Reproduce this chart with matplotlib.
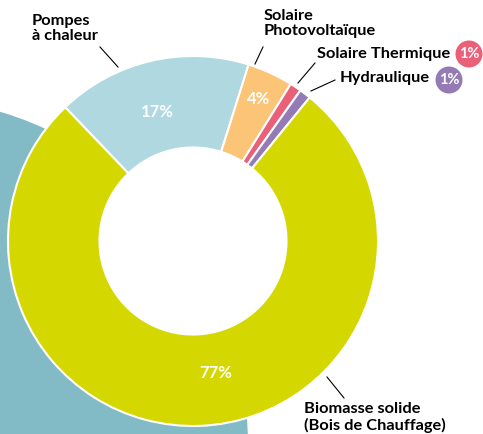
import matplotlib
matplotlib.use("Agg")
import matplotlib.pyplot as plt
from matplotlib.patches import Circle

# ---- data ----
categories = ["Pompes\nà chaleur", "Solaire\nPhotovoltaïque", "Solaire Thermique",
              "Hydraulique", "Biomasse solide\n(Bois de Chauffage)"]
values = [17, 4, 1, 1, 77]
colors = ["#b0d8e0", "#fbc477", "#ea6078", "#957bb5", "#d4d800"]
pct_labels = [f"{v}%" for v in values]

W, H = 483, 434
fig = plt.figure(figsize=(W / 100, H / 100), dpi=100)
ax = fig.add_axes([0, 0, 1, 1])

def Y(y):
    return H - y

FONT = ["Lato", "DejaVu Sans"]

# background teal disc
ax.add_patch(Circle((-100, Y(445)), 348, color="#82bac6", zorder=0, lw=0))

cx, cy = 193, Y(241)
R, r_in = 185, 93.5
wedges, _ = ax.pie(values, colors=colors, startangle=133.7, counterclock=False,
                   center=(cx, cy), radius=R,
                   wedgeprops=dict(width=R - r_in, edgecolor="white", linewidth=1.5))
for w in wedges:
    w.set_zorder(2)
ax.add_patch(Circle((cx, cy), r_in, color="white", zorder=1.5, lw=0))

# percentage labels inside big slices
inside_pos = {0: (157, 112), 1: (259, 99), 4: (216, 373)}
for i, (px, py) in inside_pos.items():
    ax.text(px, Y(py), pct_labels[i], color="white", fontsize=12, fontweight="bold",
            ha="center", va="center", family=FONT, zorder=5)

# category labels with leader lines
lab = dict(fontsize=11.8, fontweight="bold", color="black", family=FONT, zorder=5)
ax.text(32, Y(14), categories[0], ha="left", va="top", linespacing=1.12, **lab)
ax.plot([100, 118], [Y(47), Y(67)], color="black", lw=0.8, zorder=5)

ax.text(264, Y(9), categories[1], ha="left", va="top", linespacing=1.12, **lab)
ax.plot([263, 255], [Y(47), Y(64)], color="black", lw=0.8, zorder=5)

ax.text(317, Y(54), categories[2], ha="left", va="center", **lab)
ax.plot([315, 298], [Y(63), Y(83)], color="black", lw=0.8, zorder=5)
ax.add_patch(Circle((469, Y(54)), 13.5, color=colors[2], zorder=4, lw=0))
ax.text(469, Y(54), pct_labels[2], color="white", fontsize=10.5, fontweight="bold",
        ha="center", va="center", family=FONT, zorder=5)

ax.text(340, Y(78), categories[3], ha="left", va="center", **lab)
ax.plot([335, 311], [Y(80), Y(91)], color="black", lw=0.8, zorder=5)
ax.add_patch(Circle((449, Y(80)), 13.5, color=colors[3], zorder=4, lw=0))
ax.text(449, Y(80), pct_labels[3], color="white", fontsize=10.5, fontweight="bold",
        ha="center", va="center", family=FONT, zorder=5)

ax.text(304, Y(402), categories[4], ha="left", va="top", linespacing=1.12, **lab)
ax.plot([327, 344], [Y(377), Y(398)], color="black", lw=0.8, zorder=5)

ax.set_xlim(0, W)
ax.set_ylim(0, H)
ax.set_aspect("auto")
ax.axis("off")
fig.savefig("out.png", dpi=100)
